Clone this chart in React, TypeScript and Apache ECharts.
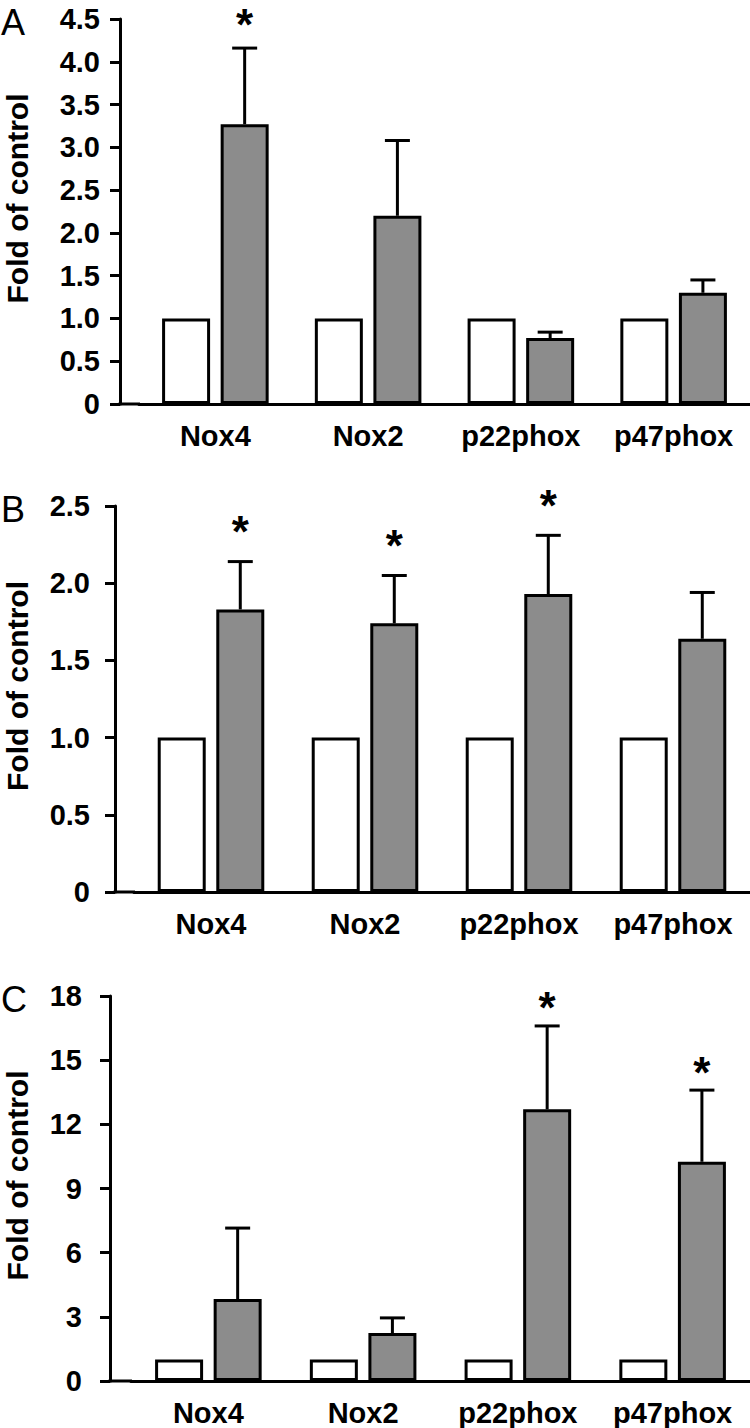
import React, { useEffect, useRef } from "react";
import * as echarts from "echarts";

const categories = ["Nox4", "Nox2", "p22phox", "p47phox"];

// Panel A
const controlA = [1, 1, 1, 1];
const treatedA = [3.27, 2.2, 0.77, 1.3];
const errTopA = [4.16, 3.08, 0.84, 1.45];
const starA = [1, 0, 0, 0];
const ticksA = ["0", "0.5", "1.0", "1.5", "2.0", "2.5", "3.0", "3.5", "4.0", "4.5"];

// Panel B
const controlB = [1, 1, 1, 1];
const treatedB = [1.83, 1.74, 1.93, 1.64];
const errTopB = [2.14, 2.05, 2.31, 1.94];
const starB = [1, 1, 1, 0];
const ticksB = ["0", "0.5", "1.0", "1.5", "2.0", "2.5"];

// Panel C
const controlC = [1, 1, 1, 1];
const treatedC = [3.83, 2.24, 12.7, 10.25];
const errTopC = [7.15, 2.95, 16.6, 13.6];
const starC = [0, 0, 1, 1];
const ticksC = ["0", "3", "6", "9", "12", "15", "18"];

const yName = "Fold of control";
const panelLetters = ["A", "B", "C"];

const FONT = "'Liberation Sans', Arial, Helvetica, sans-serif";
const BAR_W = 48;
const BAR_GAP = 0.22;
const GRAY_OFFSET = (BAR_W + BAR_W * BAR_GAP) / 2;

type Panel = {
  control: number[];
  treated: number[];
  errTop: number[];
  star: number[];
  ticks: string[];
  max: number;
  interval: number;
  left: number;
  top: number;
  height: number;
  offset: number;
  labelMargin: number;
  starLift: number;
};

const panels: Panel[] = [
  { control: controlA, treated: treatedA, errTop: errTopA, star: starA, ticks: ticksA, max: 4.5, interval: 0.5, left: 139, top: 19, height: 385, offset: 19, labelMargin: 20, starLift: 46 },
  { control: controlB, treated: treatedB, errTop: errTopB, star: starB, ticks: ticksB, max: 2.5, interval: 0.5, left: 134, top: 506, height: 386, offset: 19, labelMargin: 25, starLift: 52 },
  { control: controlC, treated: treatedC, errTop: errTopC, star: starC, ticks: ticksC, max: 18, interval: 3, left: 131, top: 996, height: 385, offset: 21, labelMargin: 28, starLift: 40 },
];

export default function App() {
  const ref = useRef<HTMLDivElement>(null);
  useEffect(() => {
    if (!ref.current) return;
    const chart = echarts.init(ref.current, null, { renderer: "svg" });
    const grid: any[] = [];
    const xAxis: any[] = [];
    const yAxis: any[] = [];
    const series: any[] = [];
    const graphic: any[] = [];

    panels.forEach((p, gi) => {
      grid.push({ left: p.left, top: p.top, height: p.height, width: 624, containLabel: false });
      xAxis.push({
        type: "category",
        gridIndex: gi,
        data: categories,
        axisLine: { lineStyle: { color: "#000", width: 3 } },
        axisTick: { show: false },
        axisLabel: { interval: 0, color: "#000", fontFamily: FONT, fontWeight: "bold", fontSize: 29, margin: 17 },
        splitLine: { show: false },
      });
      yAxis.push({
        type: "value",
        gridIndex: gi,
        min: 0,
        max: p.max,
        interval: p.interval,
        offset: p.offset,
        axisLine: { show: true, lineStyle: { color: "#000", width: 3 } },
        axisTick: { show: true, length: 10, lineStyle: { color: "#000", width: 3 } },
        axisLabel: {
          color: "#000",
          fontFamily: FONT,
          fontWeight: "bold",
          fontSize: 29,
          margin: p.labelMargin,
          formatter: (v: number) => {
            const idx = Math.round(v / p.interval);
            return p.ticks[idx] ?? String(v);
          },
        },
        splitLine: { show: false },
      });
      series.push({
        type: "bar",
        xAxisIndex: gi,
        yAxisIndex: gi,
        data: p.control,
        barWidth: BAR_W,
        barGap: BAR_GAP * 100 + "%",
        itemStyle: { color: "#ffffff", borderColor: "#000", borderWidth: 3 },
        z: 3,
      });
      series.push({
        type: "bar",
        xAxisIndex: gi,
        yAxisIndex: gi,
        data: p.treated,
        barWidth: BAR_W,
        barGap: BAR_GAP * 100 + "%",
        itemStyle: { color: "#8c8c8c", borderColor: "#000", borderWidth: 3 },
        z: 3,
      });
      series.push({
        type: "custom",
        xAxisIndex: gi,
        yAxisIndex: gi,
        z: 4,
        data: p.treated.map((v, i) => [i, v, p.errTop[i], p.star[i]]),
        renderItem: (params: any, api: any) => {
          const i = api.value(0);
          const base = api.coord([i, api.value(1)]);
          const top = api.coord([i, api.value(2)]);
          const x = base[0] + GRAY_OFFSET;
          const children: any[] = [
            { type: "line", shape: { x1: x, y1: base[1], x2: x, y2: top[1] }, style: { stroke: "#000", lineWidth: 3 } },
            { type: "line", shape: { x1: x - 12.5, y1: top[1], x2: x + 12.5, y2: top[1] }, style: { stroke: "#000", lineWidth: 3 } },
          ];
          if (api.value(3)) {
            children.push({
              type: "text",
              style: {
                text: "*",
                x: x,
                y: top[1] - p.starLift,
                font: "bold 44px " + FONT,
                fill: "#000",
                textAlign: "center",
                textVerticalAlign: "top",
              },
            });
          }
          return { type: "group", children };
        },
      });
      const axisX = p.left - p.offset;
      const zeroY = p.top + p.height;
      graphic.push({
        type: "line",
        shape: { x1: axisX - 1.5, y1: zeroY, x2: p.left + 1, y2: zeroY },
        style: { stroke: "#000", lineWidth: 3 },
        z: 10,
      });
      graphic.push({
        type: "text",
        x: 17,
        y: p.top + p.height / 2 - 13,
        rotation: Math.PI / 2,
        style: {
          text: yName,
          font: "bold 30px " + FONT,
          fill: "#000",
          textAlign: "center",
          textVerticalAlign: "middle",
        },
      });
      graphic.push({
        type: "text",
        x: 1,
        y: p.top - 15,
        style: {
          text: panelLetters[gi],
          font: "36px " + FONT,
          fill: "#000",
          textAlign: "left",
          textVerticalAlign: "top",
        },
      });
    });

    chart.setOption({
      animation: false,
      backgroundColor: "#ffffff",
      grid,
      xAxis,
      yAxis,
      series,
      graphic,
    });
    return () => chart.dispose();
  }, []);
  return <div ref={ref} style={{ position: "absolute", left: 0, top: 0, width: 750, height: 1428 }} />;
}
